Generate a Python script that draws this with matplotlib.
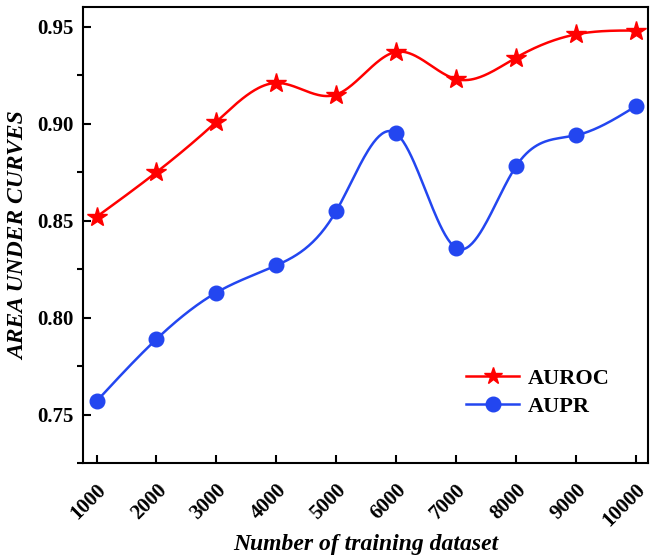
import numpy as np
import matplotlib.pyplot as plt
from matplotlib.ticker import MultipleLocator

# training set sizes and scores
sizes = [1000, 2000, 3000, 4000, 5000, 6000, 7000, 8000, 9000, 10000]
auroc = [0.852, 0.875, 0.901, 0.921, 0.915, 0.937, 0.923, 0.934, 0.946, 0.948]
aupr = [0.757, 0.789, 0.813, 0.827, 0.855, 0.895, 0.836, 0.878, 0.894, 0.909]


def natural_spline(x, y, n=400):
    # natural cubic spline through the points
    x = np.asarray(x, float)
    y = np.asarray(y, float)
    k = len(x)
    h = np.diff(x)
    A = np.zeros((k, k))
    r = np.zeros(k)
    A[0, 0] = A[-1, -1] = 1
    for i in range(1, k - 1):
        A[i, i - 1] = h[i - 1]
        A[i, i] = 2 * (h[i - 1] + h[i])
        A[i, i + 1] = h[i]
        r[i] = 3 * ((y[i + 1] - y[i]) / h[i] - (y[i] - y[i - 1]) / h[i - 1])
    c = np.linalg.solve(A, r)
    b = (y[1:] - y[:-1]) / h - h * (2 * c[:-1] + c[1:]) / 3
    d = (c[1:] - c[:-1]) / (3 * h)
    xs = np.linspace(x[0], x[-1], n)
    idx = np.clip(np.searchsorted(x, xs) - 1, 0, k - 2)
    dx = xs - x[idx]
    ys = y[idx] + b[idx] * dx + c[idx] * dx ** 2 + d[idx] * dx ** 3
    return xs, ys


plt.rcParams['font.family'] = 'Liberation Serif'
plt.rcParams['font.weight'] = 'bold'

fig, ax = plt.subplots(figsize=(6.51, 5.57), dpi=100)
fig.subplots_adjust(left=0.128, right=0.995, top=0.987, bottom=0.168)

red = '#ff0000'
blue = '#2346f0'

xs, ys = natural_spline(sizes, auroc)
ax.plot(xs, ys, color=red, lw=1.8)
ax.plot(sizes, auroc, ls='none', marker='*', ms=15, color=red)
xs, ys = natural_spline(sizes, aupr)
ax.plot(xs, ys, color=blue, lw=1.8)
ax.plot(sizes, aupr, ls='none', marker='o', ms=10.5, color=blue)

# legend proxies
ax.plot([], [], color=red, lw=1.8, marker='*', ms=13, label='AUROC')
ax.plot([], [], color=blue, lw=1.8, marker='o', ms=10.5, label='AUPR')
ax.legend(loc='upper left', bbox_to_anchor=(0.662, 0.228), frameon=False,
          prop={'size': 16, 'weight': 'bold'}, handlelength=2.4,
          handletextpad=0.4, labelspacing=0.35, borderaxespad=0)

ax.set_xlim(780, 10200)
ax.set_ylim(0.725, 0.96)
ax.set_xticks(sizes)
ax.set_xticklabels([str(s) for s in sizes], rotation=45, ha='right',
                   va='top', rotation_mode='anchor', fontsize=15,
                   fontweight='bold')
ax.yaxis.set_major_locator(MultipleLocator(0.05))
ax.yaxis.set_minor_locator(MultipleLocator(0.025))
ax.yaxis.set_major_formatter(plt.FormatStrFormatter('%.2f'))
for t in ax.get_yticklabels():
    t.set_fontsize(15)
    t.set_fontweight('bold')
ax.tick_params(axis='both', direction='in', width=1.5)
ax.tick_params(axis='both', which='major', length=6)
ax.tick_params(axis='y', which='minor', length=4, width=1.5)
ax.tick_params(axis='x', pad=12)
ax.tick_params(axis='y', pad=7)
for s in ax.spines.values():
    s.set_linewidth(1.5)

ax.set_xlabel('Number of training dataset', fontsize=17, fontweight='bold',
              fontstyle='italic', labelpad=2)
ax.set_ylabel('AREA UNDER CURVES', fontsize=17, fontweight='bold',
              fontstyle='italic', labelpad=6)

fig.savefig('out.png', dpi=100)
